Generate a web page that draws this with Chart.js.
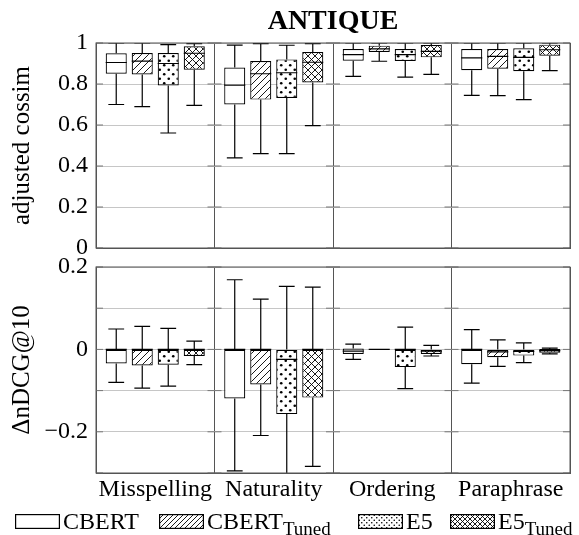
<!DOCTYPE html>
<html>
<head>
<meta charset="utf-8">
<script src="https://cdn.jsdelivr.net/npm/chart.js@4.4.0/dist/chart.umd.min.js"></script>
<style>
  body { margin: 0; background: #fff; }
  #wrap { position: relative; width: 579px; height: 535px; overflow: hidden; font-family: "Liberation Serif", "Times New Roman", serif; }
  #topChart { position: absolute; left: 0; top: 0; }
  #bottomChart { position: absolute; left: 0; top: 255px; }
  #legend { position: absolute; left: 0; top: 508px; width: 579px; height: 27px; font-size: 24px; color: #000; }
  .item { position: absolute; top: 0; height: 27px; display: flex; align-items: center; white-space: nowrap; }
  .item canvas { margin-right: 3px; }
  .item sub { font-size: 19px; vertical-align: -6px; line-height: 0; }
</style>
</head>
<body>
<div id="wrap">
  <canvas id="topChart" width="579" height="264"></canvas>
  <canvas id="bottomChart" width="579" height="256"></canvas>
  <div id="legend"></div>
</div>
<script>
const categories = ['Misspelling', 'Naturality', 'Ordering', 'Paraphrase'];
const seriesNames = ['CBERT', 'CBERT_Tuned', 'E5', 'E5_Tuned'];

// adjusted cossim, one [min, q1, median, q3, max] per category
const cossimCbert = [[0.70, 0.85, 0.905, 0.95, 1.0], [0.44, 0.70, 0.795, 0.88, 0.99], [0.837, 0.914, 0.943, 0.971, 1.0], [0.745, 0.867, 0.927, 0.971, 1.0]];
const cossimCbertTuned = [[0.69, 0.846, 0.912, 0.951, 1.0], [0.46, 0.724, 0.85, 0.912, 0.997], [0.911, 0.956, 0.971, 0.987, 1.0], [0.743, 0.875, 0.935, 0.971, 1.0]];
const cossimE5 = [[0.561, 0.793, 0.90, 0.951, 0.992], [0.46, 0.732, 0.855, 0.92, 0.989], [0.834, 0.912, 0.943, 0.971, 1.0], [0.724, 0.862, 0.93, 0.974, 1.0]];
const cossimE5Tuned = [[0.696, 0.87, 0.95, 0.984, 0.997], [0.597, 0.807, 0.906, 0.956, 0.997], [0.847, 0.93, 0.959, 0.99, 1.0], [0.865, 0.938, 0.967, 0.992, 1.0]];

// delta nDCG@10, same layout
const deltaCbert = [[-0.08, -0.034, 0, 0, 0.0495], [-0.295, -0.119, 0, 0, 0.169], [-0.024, -0.011, -0.004, 0.002, 0.013], [-0.082, -0.036, 0, 0, 0.048]];
const deltaCbertTuned = [[-0.094, -0.039, 0, 0, 0.056], [-0.209, -0.085, 0, 0, 0.122], [0, 0, 0, 0, 0], [-0.041, -0.019, -0.006, 0, 0.023]];
const deltaE5 = [[-0.089, -0.037, 0, 0, 0.051], [-0.305, -0.157, -0.024, 0, 0.153], [-0.095, -0.043, 0, 0, 0.054], [-0.032, -0.015, -0.005, 0, 0.016]];
const deltaE5Tuned = [[-0.037, -0.016, 0, 0, 0.02], [-0.284, -0.117, 0, 0, 0.151], [-0.016, -0.011, -0.004, 0, 0.01], [-0.011, -0.008, -0.003, 0.001, 0.003]];

const cossimTickLabels = [0, 0.2, 0.4, 0.6, 0.8, 1];
const deltaTickLabels = [-0.2, 0, 0.2];

const FONT = '"Liberation Serif", "Times New Roman", serif';
const patternKinds = ['none', 'lines', 'dots', 'cross'];

// build a fill pattern from a small tile
function makePattern(kind, tile) {
  const c = document.createElement('canvas');
  c.width = tile; c.height = tile;
  const g = c.getContext('2d');
  g.fillStyle = '#fff';
  g.fillRect(0, 0, tile, tile);
  g.strokeStyle = '#000';
  g.fillStyle = '#000';
  g.lineWidth = 0.9;
  if (kind === 'lines' || kind === 'cross') {
    g.beginPath();
    g.moveTo(-1, tile + 1); g.lineTo(tile + 1, -1);
    g.moveTo(-1, 1); g.lineTo(1, -1);
    g.moveTo(tile - 1, tile + 1); g.lineTo(tile + 1, tile - 1);
    if (kind === 'cross') {
      g.moveTo(-1, -1); g.lineTo(tile + 1, tile + 1);
      g.moveTo(tile - 1, -1); g.lineTo(tile + 1, 1);
      g.moveTo(-1, tile - 1); g.lineTo(1, tile + 1);
    }
    g.stroke();
  } else if (kind === 'dots') {
    const r = tile > 6 ? 1.3 : 0.8;
    [[tile * 0.25, tile * 0.25], [tile * 0.75, tile * 0.75]].forEach(([px, py]) => {
      g.beginPath(); g.arc(px, py, r, 0, Math.PI * 2); g.fill();
    });
  }
  return g.createPattern(c, 'repeat');
}

function fillFor(kind, tile) {
  return kind === 'none' ? '#fff' : makePattern(kind, tile);
}

// whiskers, caps and medians drawn through the y scale
function boxPlugin(stats) {
  return {
    id: 'boxWhiskers',
    afterDatasetsDraw(chart) {
      const { ctx, chartArea: a } = chart;
      const y = chart.scales.y;
      ctx.save();
      ctx.beginPath();
      ctx.rect(a.left, a.top, a.width, a.height);
      ctx.clip();
      ctx.strokeStyle = '#000';
      ctx.lineWidth = 1.2;
      stats.forEach((series, i) => {
        chart.getDatasetMeta(i).data.forEach((bar, j) => {
          const [mn, q1, md, q3, mx] = series[j];
          const x = bar.x, half = bar.width / 2, cap = half * 0.75;
          const pMin = y.getPixelForValue(mn), pQ1 = y.getPixelForValue(q1);
          const pMd = y.getPixelForValue(md), pQ3 = y.getPixelForValue(q3);
          const pMax = y.getPixelForValue(mx);
          ctx.beginPath();
          ctx.moveTo(x, pQ3); ctx.lineTo(x, pMax);
          ctx.moveTo(x - cap, pMax); ctx.lineTo(x + cap, pMax);
          ctx.moveTo(x, pQ1); ctx.lineTo(x, pMin);
          ctx.moveTo(x - cap, pMin); ctx.lineTo(x + cap, pMin);
          ctx.moveTo(x - half, pMd); ctx.lineTo(x + half, pMd);
          ctx.stroke();
        });
      });
      ctx.restore();
    }
  };
}

// closed frame plus short tick marks on each group border, optional panel title
const framePlugin = {
  id: 'frame',
  afterDraw(chart, args, opts) {
    const { ctx, chartArea: a } = chart;
    const y = chart.scales.y;
    const step = (a.right - a.left) / categories.length;
    ctx.save();
    ctx.strokeStyle = '#777';
    ctx.lineWidth = 1;
    y.ticks.forEach(t => {
      const py = y.getPixelForValue(t.value);
      for (let k = 0; k <= categories.length; k++) {
        const bx = a.left + k * step;
        ctx.beginPath();
        ctx.moveTo(Math.max(a.left, bx - 7), py);
        ctx.lineTo(Math.min(a.right, bx + 7), py);
        ctx.stroke();
      }
    });
    ctx.strokeStyle = '#555';
    ctx.strokeRect(a.left, a.top, a.right - a.left, a.bottom - a.top);
    if (opts.text) {
      ctx.fillStyle = '#000';
      ctx.font = 'bold 28px ' + FONT;
      ctx.textAlign = 'center';
      ctx.textBaseline = 'middle';
      ctx.fillText(opts.text, (a.left + a.right) / 2, 22);
    }
    ctx.restore();
  }
};

function makeDatasets(stats) {
  return stats.map((series, i) => ({
    label: seriesNames[i],
    data: series.map(s => [s[1], s[3]]),
    backgroundColor: fillFor(patternKinds[i], i === 2 ? 9 : 7),
    borderColor: '#000',
    borderWidth: 1.2,
    borderSkipped: false,
    categoryPercentage: 0.878,
    barPercentage: 0.81
  }));
}

function tickText(v, shown) {
  const r = Math.round(v * 10) / 10;
  if (!shown.some(s => Math.abs(s - r) < 1e-9)) return '';
  if (r === 0) return '0';
  return r < 0 ? '\u2212' + Math.abs(r) : String(r);
}

function panelOptions(opts) {
  return {
    responsive: false,
    animation: false,
    layout: { padding: { left: 0, right: 9, top: opts.padTop, bottom: 0 } },
    plugins: {
      legend: { display: false },
      tooltip: { enabled: false },
      title: { display: false },
      frame: { text: opts.title }
    },
    scales: {
      x: {
        type: 'category',
        labels: categories,
        ticks: { display: opts.showX, color: '#000', font: { family: FONT, size: 24 }, padding: 2, maxRotation: 0, autoSkip: false },
        grid: { offset: true, color: '#555', drawTicks: false },
        border: { color: '#555' },
        afterFit: s => { s.height = opts.xHeight; s.paddingLeft = 0; s.paddingRight = 0; }
      },
      y: {
        min: opts.min,
        max: opts.max,
        ticks: {
          stepSize: 0.1,
          color: '#000',
          padding: 8,
          font: { family: FONT, size: 24 },
          callback: v => tickText(v, opts.tickLabels)
        },
        grid: { color: '#c6c6c6', drawTicks: false },
        border: { color: '#555' },
        title: { display: true, text: opts.yTitle, color: '#000', font: { family: FONT, size: 25 }, padding: { top: 7, bottom: 0 } },
        afterFit: s => { s.width = 96; s.paddingTop = 0; s.paddingBottom = 0; }
      }
    }
  };
}

const topStats = [cossimCbert, cossimCbertTuned, cossimE5, cossimE5Tuned];
const bottomStats = [deltaCbert, deltaCbertTuned, deltaE5, deltaE5Tuned];

new Chart(document.getElementById('topChart'), {
  type: 'bar',
  data: { labels: categories, datasets: makeDatasets(topStats) },
  options: panelOptions({
    min: 0, max: 1, tickLabels: cossimTickLabels, yTitle: 'adjusted cossim',
    showX: false, xHeight: 16, padTop: 43, title: 'ANTIQUE'
  }),
  plugins: [boxPlugin(topStats), framePlugin]
});

new Chart(document.getElementById('bottomChart'), {
  type: 'bar',
  data: { labels: categories, datasets: makeDatasets(bottomStats) },
  options: panelOptions({
    min: -0.3, max: 0.2, tickLabels: deltaTickLabels, yTitle: '\u0394nDCG@10',
    showX: true, xHeight: 38, padTop: 12, title: ''
  }),
  plugins: [boxPlugin(bottomStats), framePlugin]
});

// legend with subscripts as html text
const legendLeft = [15, 159, 358, 450];
const legend = document.getElementById('legend');
seriesNames.forEach((name, i) => {
  const item = document.createElement('div');
  item.className = 'item';
  item.style.left = legendLeft[i] + 'px';
  const sw = document.createElement('canvas');
  sw.width = 45; sw.height = 15;
  const g = sw.getContext('2d');
  g.fillStyle = fillFor(patternKinds[i], 5);
  g.fillRect(0, 0, 45, 15);
  g.strokeStyle = '#000';
  g.lineWidth = 1.2;
  g.strokeRect(0.6, 0.6, 43.8, 13.8);
  item.appendChild(sw);
  const label = document.createElement('span');
  const parts = name.split('_');
  label.textContent = parts[0];
  if (parts[1]) {
    const sub = document.createElement('sub');
    sub.textContent = parts[1];
    label.appendChild(sub);
  }
  item.appendChild(label);
  legend.appendChild(item);
});
</script>
</body>
</html>
